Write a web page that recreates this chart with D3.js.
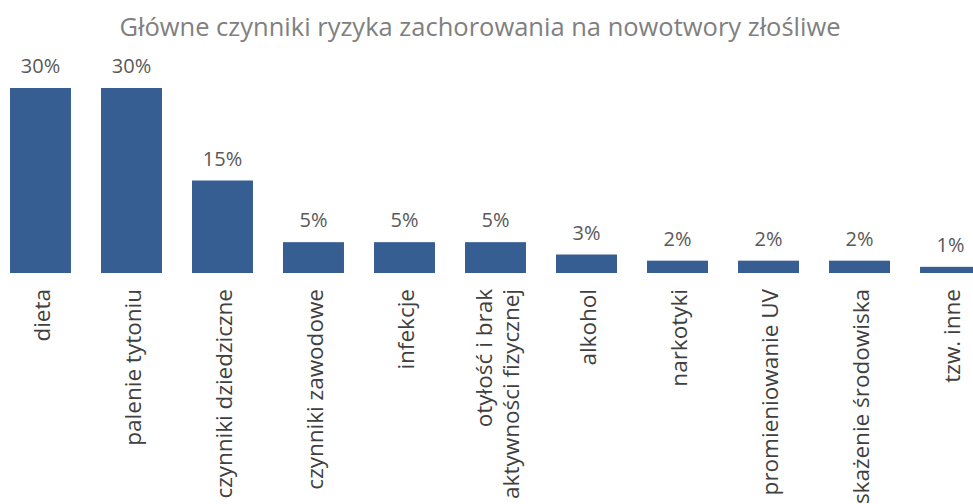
<!DOCTYPE html>
<html><head><meta charset="utf-8">
<script src="https://cdn.jsdelivr.net/npm/d3@7"></script>
<style>body{margin:0;background:#fff}svg{display:block}text{font-family:"Open Sans",sans-serif}</style>
</head><body>
<svg id="c" width="973" height="504"></svg>
<script>
const title = "Główne czynniki ryzyka zachorowania na nowotwory złośliwe";
const categories = ["dieta","palenie tytoniu","czynniki dziedziczne","czynniki zawodowe","infekcje","otyłość i brak\naktywności fizycznej","alkohol","narkotyki","promieniowanie UV","skażenie środowiska","tzw. inne"];
const values = [30,30,15,5,5,5,3,2,2,2,1];
const valueLabels = ["30%","30%","15%","5%","5%","5%","3%","2%","2%","2%","1%"];

const svg = d3.select("#c");
const x = d3.scaleBand().domain(categories).range([10, 981]).paddingInner(0.33).paddingOuter(0);
const y = d3.scaleLinear().domain([0, 30]).range([273, 88]);

svg.append("text").attr("x", 480).attr("y", 36).attr("text-anchor","middle")
  .attr("font-size", 25.5).attr("fill","#808080").text(title);

svg.selectAll("rect.bar").data(values).join("rect").attr("class","bar")
  .attr("x",(d,i)=>x(categories[i])).attr("width",x.bandwidth())
  .attr("y",d=>y(d)).attr("height",d=>y(0)-y(d)).attr("fill","#365e93");

svg.selectAll("text.val").data(values).join("text").attr("class","val")
  .attr("x",(d,i)=>x(categories[i])+x.bandwidth()/2).attr("y",d=>y(d)-15)
  .attr("text-anchor","middle").attr("font-size",20).attr("fill","#595959")
  .text((d,i)=>valueLabels[i]);

const g = svg.selectAll("g.lab").data(categories).join("g").attr("class","lab")
  .attr("transform",d=>`translate(${x(d)+x.bandwidth()/2+2},289) rotate(-90)`);
g.each(function(d){
  const lines = d.split("\n");
  const t = d3.select(this).append("text").attr("text-anchor","end")
    .attr("font-size",22.5).attr("fill","#404040");
  lines.forEach((l,j)=>{
    t.append("tspan").attr("x",0)
     .attr("dy", j===0 ? (0.35 - (lines.length-1)*0.6)+"em" : "1.2em").text(l);
  });
});
</script>
</body></html>
